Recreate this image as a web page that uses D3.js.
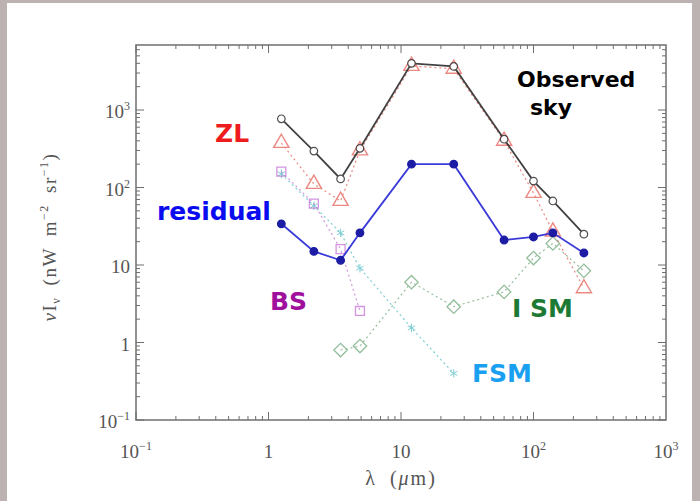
<!DOCTYPE html>
<html>
<head>
<meta charset="utf-8">
<script src="https://cdn.jsdelivr.net/npm/d3@7"></script>
<style>
  html, body { margin: 0; padding: 0; background: #bcb2b2; }
  #page { position: absolute; left: 7px; top: 3px; width: 685px; height: 498px; background: #fff; }
  svg { position: absolute; left: 0; top: 0; }
</style>
</head>
<body>
<div id="page"></div>
<svg id="chart" width="700" height="501"></svg>
<script>
// COBE/DIRBE band wavelengths (micron)
const bands = [1.25, 2.2, 3.5, 4.9, 12, 25, 60, 100, 140, 240]
const observed = [770, 295, 129, 320, 4000, 3650, 420, 121, 67, 25]
const zodi = [375, 111, 67, 300, 3700, 3400, 400, 85, 27, 5.0]
const residual = [34, 15, 11.5, 26, 200, 200, 21, 23, 26, 14.3]
const bsBands = [1.25, 2.2, 3.5, 4.9]
const bs = [160, 62, 16, 2.55]
const fsmBands = [1.25, 2.2, 3.5, 4.9, 12, 25]
const fsm = [150, 58, 26, 9.1, 1.54, 0.4]
const ismBands = [3.5, 4.9, 12, 25, 60, 100, 140, 240]
const ism = [0.8, 0.9, 6.0, 2.9, 4.5, 12.3, 19, 8.4]

const xTicks = [0.1, 1, 10, 100, 1000]
const xTickLabels = [["10", "−1"], ["1", ""], ["10", ""], ["10", "2"], ["10", "3"]]
const yTicks = [0.1, 1, 10, 100, 1000]
const yTickLabels = [["10", "−1"], ["1", ""], ["10", ""], ["10", "2"], ["10", "3"]]

const pL = 136, pR = 666, pT = 45, pB = 420
const svg = d3.select("#chart")

const x = d3.scaleLog().domain([0.1, 1000]).range([pL, pR])
// 77.5 px per decade, 0.1 sits on the bottom frame
const y = d3.scaleLog().domain([0.1, Math.pow(10, -1 + (pB - pT) / 77.5)]).range([pB, pT])

const frameColor = "#6f6f6f"

// minor + major ticks, mirrored on all four sides
function minorTicks(lo, hi) {
  const t = []
  for (let e = Math.round(Math.log10(lo)); e < Math.log10(hi); e++) {
    for (let k = 1; k < 10; k++) {
      const v = +(k * Math.pow(10, e)).toPrecision(6)
      if (v >= lo && v <= hi) t.push(v)
    }
  }
  return t
}
const g = svg.append("g").attr("stroke", frameColor).attr("stroke-width", 1)
minorTicks(0.1, 1000).forEach(v => {
  const len = xTicks.includes(v) ? 8 : 4
  g.append("line").attr("x1", x(v)).attr("x2", x(v)).attr("y1", pB).attr("y2", pB - len)
  g.append("line").attr("x1", x(v)).attr("x2", x(v)).attr("y1", pT).attr("y2", pT + len)
})
minorTicks(0.1, y.domain()[1]).forEach(v => {
  const len = yTicks.includes(v) ? 8 : 4
  g.append("line").attr("y1", y(v)).attr("y2", y(v)).attr("x1", pL).attr("x2", pL + len)
  g.append("line").attr("y1", y(v)).attr("y2", y(v)).attr("x1", pR).attr("x2", pR - len)
})
svg.append("rect").attr("x", pL).attr("y", pT).attr("width", pR - pL).attr("height", pB - pT)
  .attr("fill", "none").attr("stroke", frameColor).attr("stroke-width", 1.5)

// tick labels
const serif = "'Liberation Serif', 'DejaVu Serif', serif"
xTicks.forEach((v, i) => {
  const t = svg.append("text").attr("x", x(v)).attr("y", 458).attr("text-anchor", "middle")
    .attr("font-family", serif).attr("font-size", 19).attr("fill", "#555")
  t.append("tspan").text(xTickLabels[i][0])
  if (xTickLabels[i][1]) t.append("tspan").attr("dy", -8).attr("font-size", 12).text(xTickLabels[i][1])
})
yTicks.forEach((v, i) => {
  const t = svg.append("text").attr("x", 130).attr("y", y(v) + 8).attr("text-anchor", "end")
    .attr("font-family", serif).attr("font-size", 19).attr("fill", "#555")
  t.append("tspan").text(yTickLabels[i][0])
  if (yTickLabels[i][1]) t.append("tspan").attr("dy", -8).attr("font-size", 12).text(yTickLabels[i][1])
})

// axis titles
const xt = svg.append("text").attr("x", 401).attr("y", 485).attr("text-anchor", "middle")
  .attr("font-family", serif).attr("font-size", 20).attr("fill", "#555")
  .attr("letter-spacing", 2).attr("word-spacing", 6)
xt.append("tspan").text("λ (")
xt.append("tspan").attr("font-style", "italic").text("μ")
xt.append("tspan").text("m)")

const yt = svg.append("text").attr("transform", "translate(56,237) rotate(-90)").attr("text-anchor", "middle")
  .attr("font-family", serif).attr("font-size", 19).attr("fill", "#555")
  .attr("letter-spacing", 1.5).attr("word-spacing", 5)
yt.append("tspan").attr("font-style", "italic").text("ν")
yt.append("tspan").text("I")
yt.append("tspan").attr("dy", 4).attr("font-size", 12).text("ν")
yt.append("tspan").attr("dy", -4).text(" (nW m")
yt.append("tspan").attr("dy", -8).attr("font-size", 12).text("−2")
yt.append("tspan").attr("dy", 8).text(" sr")
yt.append("tspan").attr("dy", -8).attr("font-size", 12).text("−1")
yt.append("tspan").attr("dy", 8).text(")")

const line = d3.line().x(d => x(d[0])).y(d => y(d[1]))

// one curve: line + markers
function drawSeries(xs, ys, color, shape, opts) {
  const pts = xs.map((v, i) => [v, ys[i]])
  const grp = svg.append("g").attr("opacity", opts.opacity)
  grp.append("path").attr("d", line(pts)).attr("fill", "none")
    .attr("stroke", opts.lineColor || color).attr("stroke-width", opts.lw || 1.2)
    .attr("stroke-dasharray", opts.dash || null)
  const sym = d3.symbol().type(shape).size(opts.size)
  grp.selectAll("path.m").data(pts).join("path").attr("class", "m")
    .attr("d", sym)
    .attr("transform", d => `translate(${x(d[0])},${y(d[1])})` + (opts.rotate ? " rotate(45)" : ""))
    .attr("fill", opts.fill || "none").attr("stroke", color).attr("stroke-width", opts.sw || 1.3)
}

drawSeries(ismBands, ism, "#3d8a4a", d3.symbolSquare, { opacity: 0.55, size: 90, dash: "2,3", rotate: true })
drawSeries(fsmBands, fsm, "#1aa8b4", d3.symbolAsterisk || d3.symbolCross, { opacity: 0.55, size: 50, dash: "2,3", fill: "#1aa8b4", sw: 1 })
drawSeries(bsBands, bs, "#b040c8", d3.symbolSquare, { opacity: 0.55, size: 80, dash: "2,3" })
drawSeries(bands, zodi, "#e03a30", d3.symbolTriangle, { opacity: 0.6, size: 100, dash: "2,3", sw: 1.4 })
drawSeries(bands, observed, "#333", d3.symbolCircle, { opacity: 0.85, size: 45, lw: 1.8, lineColor: "#222", fill: "#fff", sw: 1.2 })
drawSeries(bands, residual, "#1010a0", d3.symbolCircle, { opacity: 0.95, size: 45, lw: 1.8, lineColor: "#3030d8", fill: "#1010a0" })

// curve names
const sans = "'DejaVu Sans', Verdana, sans-serif"
const names = [
  { t: "ZL", x: 215, y: 142, c: "#ee1c1c" },
  { t: "residual", x: 157, y: 220, c: "#0b0bf0" },
  { t: "BS", x: 270, y: 310, c: "#a0109c" },
  { t: "FSM", x: 472, y: 382, c: "#1aa0f0" },
  { t: "I SM", x: 512, y: 317, c: "#1c7a34" },
  { t: "Observed", x: 517, y: 87, c: "#000", s: 22 },
  { t: "sky", x: 530, y: 115, c: "#000", s: 22 }
]
svg.selectAll("text.name").data(names).join("text").attr("class", "name")
  .attr("x", d => d.x).attr("y", d => d.y).attr("fill", d => d.c)
  .attr("font-family", sans).attr("font-weight", "bold").attr("font-size", d => d.s || 25)
  .text(d => d.t)
</script>
</body>
</html>
